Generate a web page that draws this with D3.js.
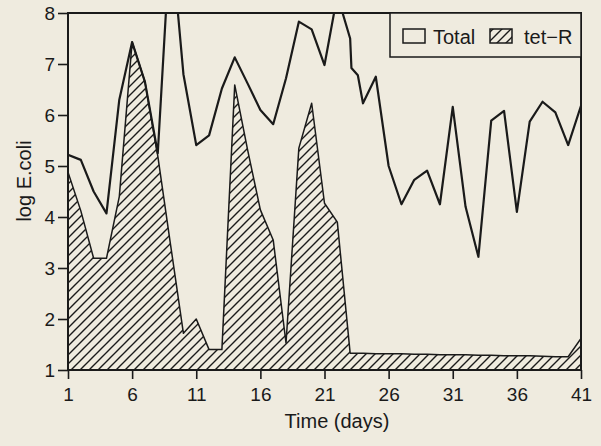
<!DOCTYPE html>
<html>
<head>
<meta charset="utf-8">
<script src="https://cdn.jsdelivr.net/npm/d3@7"></script>
<style>
  body { margin: 0; background: #efebdf; }
  text { font-family: "Liberation Sans", Arial, Helvetica, sans-serif; fill: #1a1a1a; }
</style>
</head>
<body>
<svg id="chart" width="601" height="446"></svg>
<script>
// days sampled (two extra samples on day 23)
var days = [1, 2, 3, 4, 5, 6, 7, 8, 9, 10, 11, 12, 13, 14, 15, 16, 17, 18, 19, 20, 21, 22,
            23, 23.1, 23.6, 24, 25, 26, 27, 28, 29, 30, 31, 32, 33, 34, 35, 36, 37, 38, 39, 40, 41]

// log E.coli, total count (values above 8 run off the top of the frame)
var total = [5.22, 5.12, 4.5, 4.07, 6.3, 7.43, 6.65, 5.25, 9.6, 6.8, 5.41, 5.6, 6.52, 7.13, 6.62, 6.1, 5.82, 6.72, 7.83, 7.68, 6.98, 8.35,
             7.5, 6.92, 6.78, 6.23, 6.75, 5.0, 4.25, 4.73, 4.91, 4.25, 6.16, 4.2, 3.22, 5.89, 6.08, 4.1, 5.87, 6.26, 6.05, 5.41, 6.18]

// log E.coli, tetracycline resistant
var tetR = [4.88, 4.12, 3.19, 3.19, 4.4, 7.43, 6.65, 5.2, 3.45, 1.72, 2.0, 1.4, 1.4, 6.59, 5.32, 4.14, 3.55, 1.53, 5.35, 6.23, 4.27, 3.9,
            1.33, 1.33, 1.33, 1.33, 1.32, 1.32, 1.32, 1.31, 1.31, 1.3, 1.3, 1.3, 1.29, 1.29, 1.28, 1.28, 1.28, 1.27, 1.26, 1.26, 1.62]

var xTicks = [1, 6, 11, 16, 21, 26, 31, 36, 41]
var yTicks = [1, 2, 3, 4, 5, 6, 7, 8]

svg = d3.select('#chart')
ink = '#1a1a1a'

xScale = d3.scaleLinear().domain([1, 41]).range([68, 581])
yScale = d3.scaleLinear().domain([1, 8]).range([370, 13])

data = days.map(function(d, i){ return {day: d, total: total[i], tet: tetR[i]} })

defs = svg.append('defs')

defs.append('clipPath').attr('id', 'plotClip')
  .append('rect')
  .attr('x', xScale(1)).attr('y', yScale(8))
  .attr('width', xScale(41) - xScale(1))
  .attr('height', yScale(1) - yScale(8))

hatch = defs.append('pattern')
  .attr('id', 'hatch')
  .attr('patternUnits', 'userSpaceOnUse')
  .attr('width', 9)
  .attr('height', 9)
hatch.append('path')
  .attr('d', 'M-1,1 l2,-2 M0,9 l9,-9 M8,10 l2,-2')
  .attr('stroke', ink)
  .attr('stroke-width', 1.4)

// tet-R hatched area
svg.append('path')
  .datum(data)
  .attr('clip-path', 'url(#plotClip)')
  .attr('fill', 'url(#hatch)')
  .attr('stroke', ink)
  .attr('stroke-width', 1.5)
  .attr('stroke-linejoin', 'round')
  .attr('d', d3.area()
    .x(function(d){ return xScale(d.day) })
    .y0(yScale(1))
    .y1(function(d){ return yScale(d.tet) }))

// total line
svg.append('path')
  .datum(data)
  .attr('clip-path', 'url(#plotClip)')
  .attr('fill', 'none')
  .attr('stroke', ink)
  .attr('stroke-width', 2.2)
  .attr('stroke-linejoin', 'round')
  .attr('d', d3.line()
    .x(function(d){ return xScale(d.day) })
    .y(function(d){ return yScale(d.total) }))

// axes
xAxis = svg.append('g')
  .attr('transform', 'translate(0,' + yScale(1) + ')')
  .call(d3.axisBottom(xScale).tickValues(xTicks).tickSize(9).tickPadding(9).tickFormat(d3.format('d')))
yAxis = svg.append('g')
  .attr('transform', 'translate(' + xScale(1) + ',0)')
  .call(d3.axisLeft(yScale).tickValues(yTicks).tickSize(10).tickPadding(3).tickFormat(d3.format('d')))

svg.selectAll('.domain').remove()
svg.selectAll('.tick line').attr('stroke', ink).attr('stroke-width', 1.6)
svg.selectAll('.tick text')
  .style('font-size', '19px')
  .style('font-family', '"Liberation Sans", Arial, sans-serif')
  .attr('fill', ink)

// frame
svg.append('rect')
  .attr('x', xScale(1)).attr('y', yScale(8))
  .attr('width', xScale(41) - xScale(1))
  .attr('height', yScale(1) - yScale(8))
  .attr('fill', 'none')
  .attr('stroke', ink)
  .attr('stroke-width', 2)

// titles
svg.append('text')
  .attr('x', 337)
  .attr('y', 428)
  .attr('text-anchor', 'middle')
  .style('font-size', '20px')
  .text('Time (days)')

svg.append('text')
  .attr('transform', 'translate(31,181) rotate(-90)')
  .attr('text-anchor', 'middle')
  .style('font-size', '20px')
  .text('log E.coli')

// legend
legend = svg.append('g')
legend.append('rect')
  .attr('x', 390).attr('y', yScale(8))
  .attr('width', xScale(41) - 390).attr('height', 44)
  .attr('fill', '#efebdf')
  .attr('stroke', ink)
  .attr('stroke-width', 1.5)

legend.append('rect')
  .attr('x', 403).attr('y', 29).attr('width', 22).attr('height', 14)
  .attr('fill', 'none').attr('stroke', ink).attr('stroke-width', 1.5)
legend.append('text')
  .attr('x', 433).attr('y', 43.5)
  .style('font-size', '20px')
  .text('Total')

legend.append('rect')
  .attr('x', 490).attr('y', 29).attr('width', 22).attr('height', 14)
  .attr('fill', 'url(#hatch)').attr('stroke', ink).attr('stroke-width', 1.5)
legend.append('text')
  .attr('x', 524).attr('y', 43.5)
  .style('font-size', '20px')
  .text('tet\u2212R')
</script>
</body>
</html>
